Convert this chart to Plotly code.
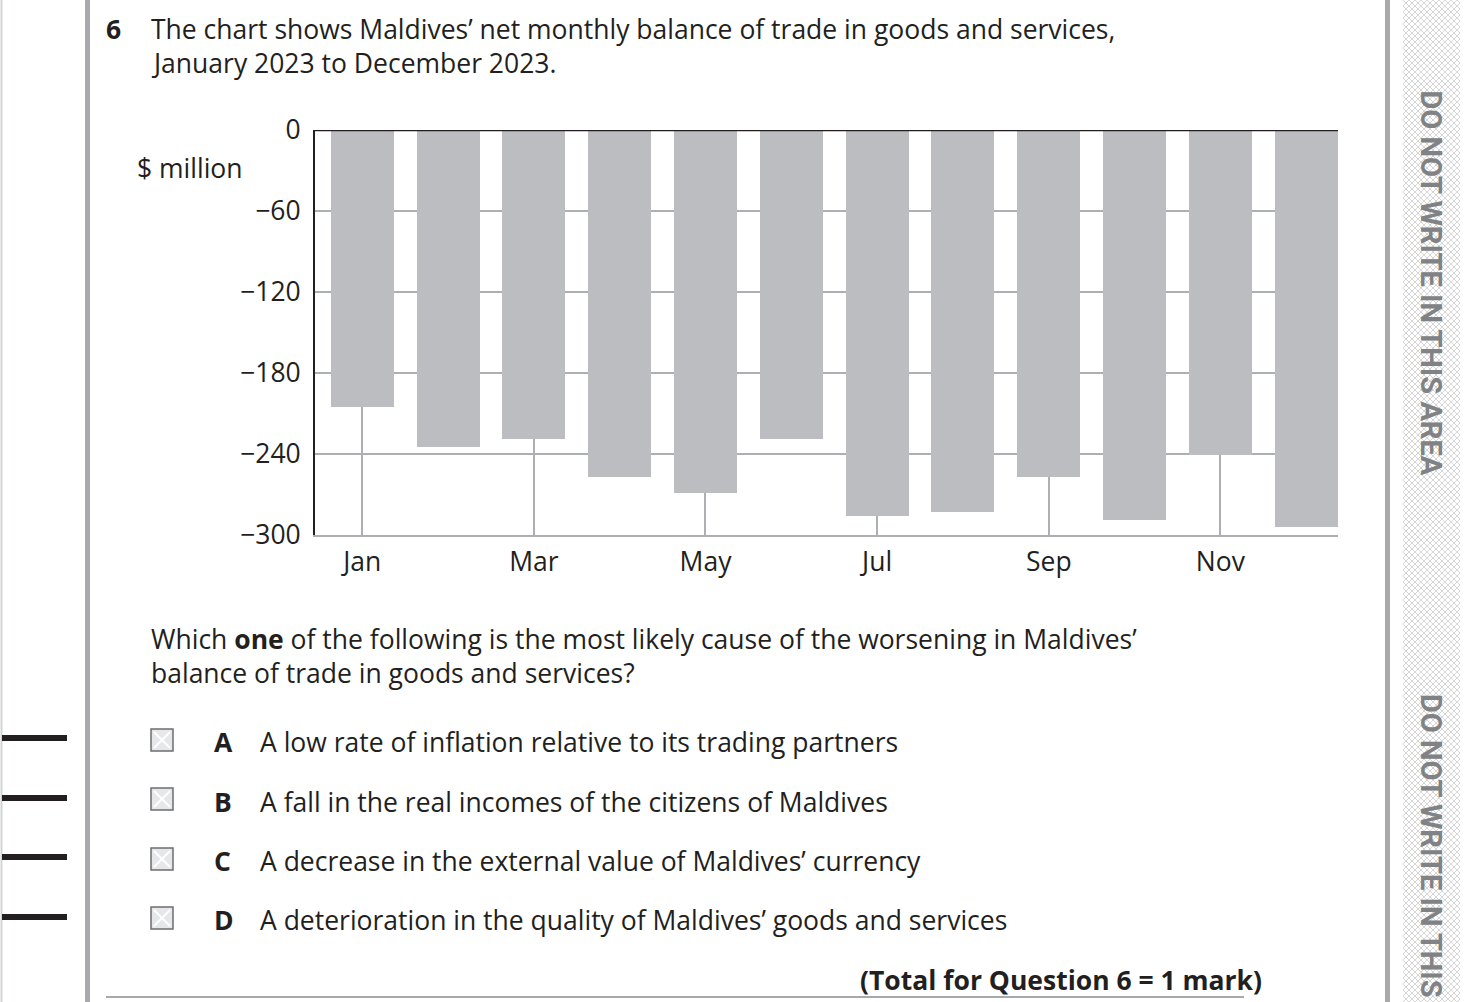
import base64
import plotly.graph_objects as go

# ---- data ----
months = ["Jan", "Feb", "Mar", "Apr", "May", "Jun", "Jul", "Aug", "Sep", "Oct", "Nov", "Dec"]
balance = [-205, -235, -229, -257, -269, -229, -286, -283, -257, -289, -241, -294]
y_tick_vals = [0, -60, -120, -180, -240, -300]
y_tick_text = ["0", "\u221260", "\u2212120", "\u2212180", "\u2212240", "\u2212300"]
x_tick_labels = ["Jan", "Mar", "May", "Jul", "Sep", "Nov"]

W, H = 1470, 1002
FONT = "Open Sans"
FS = 26.5
DARK = "#231f20"
GRID = "#aeafb2"
BAR = "#bcbdc0"


def X(px):
    return px / W


def Y(py):
    return 1 - py / H


x_idx = list(range(len(months)))
x_tick_idx = [months.index(m) for m in x_tick_labels]

fig = go.Figure()
fig.add_trace(go.Bar(
    x=x_idx, y=balance, width=0.734,
    marker=dict(color=BAR, line=dict(width=0)),
    hoverinfo="skip", showlegend=False,
))

fig.update_layout(
    width=W, height=H,
    margin=dict(l=0, r=0, t=0, b=0, pad=0, autoexpand=False),
    paper_bgcolor="white", plot_bgcolor="white",
    font=dict(family=FONT, color=DARK, size=FS),
    bargap=0, showlegend=False,
    xaxis=dict(
        domain=[X(315), X(1338)],
        range=[-0.55, 11.37],
        tickmode="array", tickvals=x_tick_idx, ticktext=x_tick_labels,
        ticks="", showgrid=True, gridcolor=GRID, gridwidth=2,
        showline=True, linecolor=GRID, linewidth=2,
        zeroline=False, tickfont=dict(size=FS, color=DARK),
        ticklabelstandoff=2, automargin=False,
    ),
    yaxis=dict(
        domain=[Y(535), Y(130)],
        range=[-300, 0],
        tickmode="array", tickvals=y_tick_vals, ticktext=y_tick_text,
        ticks="", showgrid=True, gridcolor=GRID, gridwidth=2,
        showline=True, linecolor=DARK, linewidth=2,
        zeroline=False, tickfont=dict(size=FS, color=DARK),
        ticklabelstandoff=7, automargin=False,
    ),
)

shapes = []
# top zero line
shapes.append(dict(type="line", xref="x domain", yref="y", x0=0, x1=1, y0=0, y1=0,
                   line=dict(color=DARK, width=2.5), layer="above"))
# page rules
shapes.append(dict(type="line", xref="paper", yref="paper", x0=X(1.5), x1=X(1.5), y0=0, y1=1,
                   line=dict(color="#d1d3d4", width=2)))
shapes.append(dict(type="line", xref="paper", yref="paper", x0=X(87.5), x1=X(87.5), y0=0, y1=1,
                   line=dict(color="#a7a9ac", width=5)))
shapes.append(dict(type="line", xref="paper", yref="paper", x0=X(1387.5), x1=X(1387.5), y0=0, y1=1,
                   line=dict(color="#a7a9ac", width=5)))
shapes.append(dict(type="line", xref="paper", yref="paper", x0=X(106), x1=X(1244), y0=Y(997), y1=Y(997),
                   line=dict(color="#a7a9ac", width=2)))
# left margin marks
for yy in [738, 798, 857, 917]:
    shapes.append(dict(type="line", xref="paper", yref="paper", x0=X(2), x1=X(67), y0=Y(yy), y1=Y(yy),
                       line=dict(color=DARK, width=6)))
# check boxes
for yy in [740, 799, 859, 918]:
    x0, x1, y0, y1 = 151, 173, yy - 11, yy + 11
    shapes.append(dict(type="rect", xref="paper", yref="paper", x0=X(x0), x1=X(x1), y0=Y(y0), y1=Y(y1),
                       fillcolor="#e6e7e8", line=dict(color="#6d6e71", width=1.5)))
    shapes.append(dict(type="line", xref="paper", yref="paper", x0=X(x0 + 3), x1=X(x1 - 3), y0=Y(y0 + 3), y1=Y(y1 - 3),
                       line=dict(color="white", width=2)))
    shapes.append(dict(type="line", xref="paper", yref="paper", x0=X(x0 + 3), x1=X(x1 - 3), y0=Y(y1 - 3), y1=Y(y0 + 3),
                       line=dict(color="white", width=2)))
fig.update_layout(shapes=shapes)

# hatch stripe
svg = ('<svg xmlns="http://www.w3.org/2000/svg" width="57" height="1002">'
       '<defs><pattern id="p" width="6" height="6" patternUnits="userSpaceOnUse">'
       '<path d="M0,0 L6,6 M6,0 L0,6" stroke="#c4c4c4" stroke-width="0.7"/></pattern></defs>'
       '<rect width="57" height="1002" fill="url(#p)"/></svg>')
src = "data:image/svg+xml;base64," + base64.b64encode(svg.encode()).decode()
fig.add_layout_image(dict(source=src, xref="paper", yref="paper", x=X(1403), y=1,
                          sizex=X(1460) - X(1403), sizey=1, xanchor="left", yanchor="top",
                          sizing="stretch", layer="below"))

ann = []


def text(x, y, s, size=FS, anchor="left", color=DARK, bold=False, angle=0, yanchor="middle"):
    if bold:
        s = "<b>" + s + "</b>"
    ann.append(dict(x=X(x), y=Y(y), xref="paper", yref="paper", text=s, showarrow=False,
                    xanchor=anchor, yanchor=yanchor, textangle=angle,
                    font=dict(family=FONT, size=size, color=color)))


text(104, 29, "6", bold=True)
text(149, 29, "The chart shows Maldives\u2019 net monthly balance of trade in goods and services,")
text(149, 63, "January 2023 to December 2023.")
text(135, 168, "$ million")
text(149, 639, "Which <b>one</b> of the following is the most likely cause of the worsening in Maldives\u2019")
text(149, 673, "balance of trade in goods and services?")
options = [("A", "A low rate of inflation relative to its trading partners"),
           ("B", "A fall in the real incomes of the citizens of Maldives"),
           ("C", "A decrease in the external value of Maldives\u2019 currency"),
           ("D", "A deterioration in the quality of Maldives\u2019 goods and services")]
for (letter, opt), yy in zip(options, [742, 802, 861, 920]):
    text(212, yy, letter, bold=True)
    text(258, yy, opt)
text(1264, 980, "(Total for Question 6 = 1 mark)", anchor="right", bold=True)

# side warnings
for ytop, label in [(88, "DO NOT WRITE IN THIS AREA"), (692, "DO NOT WRITE IN THIS")]:
    ann.append(dict(x=X(1431), y=Y(ytop), xref="paper", yref="paper",
                    text="<b>" + label + "</b>", showarrow=False,
                    xanchor="center", yanchor="top", textangle=90,
                    font=dict(family="Roboto", size=29, color="#808285")))
fig.update_layout(annotations=ann)

fig.write_html("out.html", config={"displayModeBar": False},
               post_script="document.body.style.margin='0px';")
